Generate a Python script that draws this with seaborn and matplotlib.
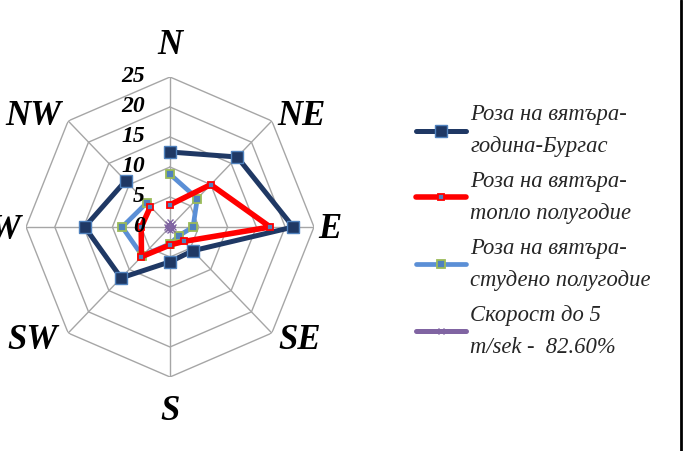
import numpy as np
import pandas as pd
import matplotlib
matplotlib.use("Agg")
import matplotlib.pyplot as plt
import seaborn as sns
from matplotlib.lines import Line2D

# Wind directions and frequencies (%)
directions = ["N", "NE", "E", "SE", "S", "SW", "W", "NW"]
rose_year = [12.5, 16.5, 21.4, 5.6, 5.8, 12.0, 14.8, 10.9]
rose_warm = [3.7, 10.0, 17.4, 3.4, 3.0, 7.0, 5.0, 4.8]
rose_cold = [8.8, 6.7, 4.0, 2.1, 2.8, 6.8, 8.3, 5.7]
speed_to_5 = [0.8, 0.6, 0.5, 0.4, 0.5, 0.5, 0.6, 0.6]

series_names = [
    "Роза на вятъра-\nгодина-Бургас",
    "Роза на вятъра-\nтопло полугодие",
    "Роза на вятъра-\nстудено полугодие",
    "Скорост до 5\nm/sek -  82.60%",
]
r_ticks = [0, 5, 10, 15, 20, 25]

sns.set_theme(style="white")
plt.rcParams["font.family"] = ["Liberation Serif", "DejaVu Serif"]

W, H = 683, 451
fig = plt.figure(figsize=(W / 100, H / 100), dpi=100)
ax = fig.add_axes([26 / W, 74 / H, 288 / W, 300 / H], projection="polar")
ax.set_aspect("auto")
ax.set_theta_zero_location("N")
ax.set_theta_direction(-1)
ax.set_ylim(0, r_ticks[-1])

n = len(directions)
theta = np.arange(n) * 2 * np.pi / n
theta_c = np.append(theta, theta[0])

# octagonal web grid
grid_col = "#a6a6a6"
for r in r_ticks[1:]:
    ax.plot(theta_c, [r] * (n + 1), color=grid_col, lw=1.0, zorder=1)
for t in theta:
    ax.plot([t, t], [0, r_ticks[-1]], color=grid_col, lw=1.0, zorder=1)
ax.grid(False)
ax.spines["polar"].set_visible(False)
ax.set_xticks([])
ax.set_yticks([])
ax.patch.set_alpha(0)

styles = [
    dict(color="#1f3864", lw=3.6, marker="s", ms=8.5, mfc="#1f3864", mec="#4f81bd", mew=1.0),
    dict(color="#ff0000", lw=4.0, marker="s", ms=4.8, mfc="#4f81bd", mec="#ff0000", mew=1.3),
    dict(color="#5b8fd6", lw=3.4, marker="s", ms=5.2, mfc="#4f81bd", mec="#9bbb59", mew=1.3),
    dict(color="#8064a2", lw=1.2, marker="x", ms=4.0, mfc="#8064a2", mec="#8064a2", mew=1.0),
]
legend_lw = [3.6, 4.0, 3.4, 3.6]
all_series = [rose_year, rose_warm, rose_cold, speed_to_5]
zorders = [3, 5, 4, 6]

handles = []
for vals, name, st, z, llw in zip(all_series, series_names, styles, zorders, legend_lw):
    df = pd.DataFrame({"theta": theta_c, "r": np.append(vals, vals[0])})
    sns.lineplot(data=df, x="theta", y="r", sort=False, ax=ax,
                 color=st["color"], linewidth=st["lw"], marker=st["marker"],
                 markersize=st["ms"], markerfacecolor=st["mfc"],
                 markeredgecolor=st["mec"], markeredgewidth=st["mew"],
                 zorder=z, legend=False, clip_on=False)
    handles.append(Line2D([], [], color=st["color"], lw=llw, marker=st["marker"],
                          ms=st["ms"], mfc=st["mfc"], mec=st["mec"], mew=st["mew"]))
ax.set_xlabel("")
ax.set_ylabel("")

# radial value labels left of the N spoke
for r in r_ticks:
    ax.annotate(str(r), xy=(0, r), xytext=(-25, 0), textcoords="offset pixels",
                ha="right", va="center", fontsize=17, fontstyle="italic",
                fontweight="bold", color="black", zorder=7, annotation_clip=False)

# compass labels around the outer ring
offsets = [(0, 31), (30, 4), (16, -3), (28, -7), (0, -35), (-36, -7), (-21, -3), (-35, 4)]
for t, lab, off in zip(theta, directions, offsets):
    ax.annotate(lab, xy=(t, r_ticks[-1]), xytext=off, textcoords="offset pixels",
                ha="center", va="center", fontsize=25, fontstyle="italic",
                fontweight="bold", color="black", annotation_clip=False)

leg = fig.legend(handles, series_names, loc="upper left",
                 bbox_to_anchor=(416 / W, 1 - 104 / H), frameon=False,
                 prop={"family": "Liberation Serif", "style": "italic", "size": 16.3},
                 handlelength=2.2, handletextpad=0.2, labelspacing=0.62,
                 borderaxespad=0, borderpad=0)
for txt in leg.get_texts():
    txt.set_linespacing(1.68)

# right border of the chart area
fig.add_artist(Line2D([680.5 / W, 680.5 / W], [0, 1], color="black", lw=2,
                      transform=fig.transFigure))

fig.savefig("out.png", dpi=100)
